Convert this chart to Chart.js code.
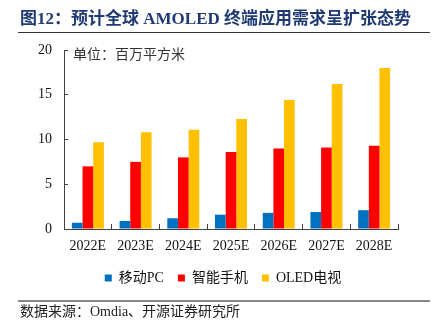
<!DOCTYPE html>
<html><head><meta charset="utf-8">
<script src="https://cdn.jsdelivr.net/npm/chart.js@4"></script>
<style>html,body{margin:0;padding:0;background:#fff;}#w{width:436px;height:329px;position:relative;}</style>
</head><body><div id="w"><canvas id="c" width="436" height="329"></canvas></div>
<script>
const categories = ['2022E','2023E','2024E','2025E','2026E','2027E','2028E'];
const seriesNames = ['移动PC','智能手机','OLED电视'];
const mobilePC = [0.7, 0.9, 1.2, 1.6, 1.8, 1.9, 2.1];
const smartphone = [7.0, 7.5, 8.0, 8.6, 9.0, 9.1, 9.3];
const oledTV = [9.7, 10.8, 11.1, 12.3, 14.4, 16.2, 18.0];
const yTicks = [0, 5, 10, 15, 20];
const titleText = '图12：预计全球 AMOLED 终端应用需求呈扩张态势';
const unitText = '单位：百万平方米';
const sourceText = '数据来源：Omdia、开源证券研究所';

const FONT = "'Liberation Serif', 'Noto Sans CJK SC', serif";
const decor = {
  id: 'decor',
  afterDraw(chart) {
    const ctx = chart.ctx;
    ctx.save();
    ctx.textBaseline = 'middle';
    ctx.fillStyle = '#1F3A73';
    ctx.font = "bold 17px " + FONT;
    ctx.fillText(titleText, 20, 20);
    ctx.strokeStyle = '#333';
    ctx.lineWidth = 1;
    ctx.beginPath(); ctx.moveTo(18, 32.5); ctx.lineTo(430, 32.5); ctx.stroke();
    ctx.strokeStyle = '#888';
    ctx.lineWidth = 2;
    ctx.beginPath(); ctx.moveTo(18, 301); ctx.lineTo(430, 301); ctx.stroke();
    ctx.fillStyle = '#222';
    ctx.font = "14px " + FONT;
    ctx.fillText(sourceText, 20, 312);
    ctx.fillStyle = '#333';
    ctx.font = "14px " + FONT;
    ctx.fillText(unitText, 73, 55);
    ctx.restore();
  }
};

new Chart(document.getElementById('c'), {
  type: 'bar',
  data: {
    labels: categories,
    datasets: [
      { label: seriesNames[0], data: mobilePC, backgroundColor: '#0070C0' },
      { label: seriesNames[1], data: smartphone, backgroundColor: '#FF0000' },
      { label: seriesNames[2], data: oledTV, backgroundColor: '#FFC000' }
    ]
  },
  options: {
    responsive: false,
    animation: false,
    devicePixelRatio: 1,
    layout: { padding: { left: 10, right: 0, top: 50, bottom: 34 } },
    datasets: { bar: { categoryPercentage: 0.67, barPercentage: 1.0 } },
    plugins: {
      legend: {
        position: 'bottom',
        labels: { boxWidth: 7, boxHeight: 7, padding: 14, color: '#111', font: { family: FONT, size: 14 } }
      },
      tooltip: { enabled: false }
    },
    scales: {
      x: {
        grid: { drawOnChartArea: false, tickLength: -5, color: '#404040' },
        border: { color: '#404040' },
        ticks: { color: '#111', padding: 14, font: { family: FONT, size: 14 } },
        afterFit(s) { s.height = 28; }
      },
      y: {
        min: 0, max: 20,
        afterBuildTicks(s) { s.ticks = yTicks.map(v => ({ value: v })); },
        grid: { drawOnChartArea: false, tickLength: -4, color: '#404040' },
        border: { color: '#404040' },
        ticks: { color: '#111', padding: 16, font: { family: FONT, size: 14 } },
        afterFit(s) { s.width = 54; }
      },
      y2: {
        position: 'right',
        display: true,
        min: 0, max: 20,
        grid: { display: false, drawTicks: false },
        border: { display: false },
        ticks: { display: false },
        afterFit(s) { s.width = 38; }
      }
    }
  },
  plugins: [decor]
});
</script></body></html>
